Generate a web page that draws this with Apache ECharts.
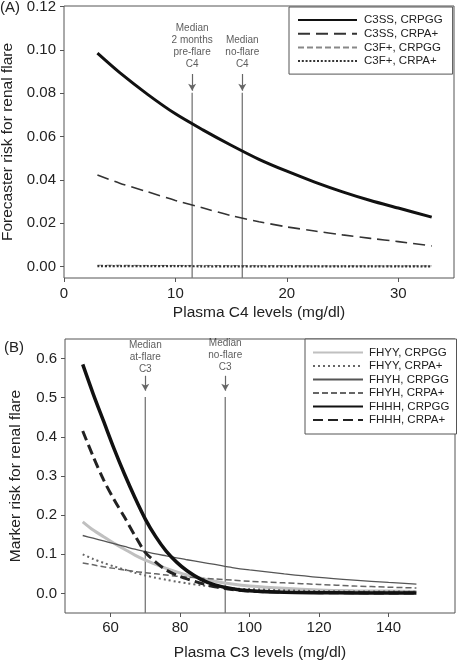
<!DOCTYPE html>
<html><head><meta charset="utf-8">
<script src="https://cdn.jsdelivr.net/npm/echarts@6/dist/echarts.min.js"></script>
<style>html,body{margin:0;padding:0;background:#fff}#c{width:457px;height:661px}</style>
</head><body><div id="c"></div>
<script>
// ---------- Panel A data ----------
const c4Levels = [3, 5, 7.5, 10, 12.5, 15, 17.5, 20, 22.5, 25, 27.5, 30, 33];
const c3ssCrpgg = [0.0985, 0.0895, 0.0795, 0.0705, 0.063, 0.056, 0.0495, 0.044, 0.039, 0.0345, 0.0305, 0.027, 0.0228];
const c3ssCrpa = [0.0423, 0.0385, 0.0345, 0.0305, 0.027, 0.0235, 0.0207, 0.0183, 0.0164, 0.0146, 0.013, 0.0115, 0.0095];
const c3fCrpgg = [0.0006, 0.0006, 0.0005, 0.0005, 0.0005, 0.0004, 0.0004, 0.0004, 0.0003, 0.0003, 0.0003, 0.0003, 0.0003];
const c3fCrpa = [0.0002, 0.0002, 0.0002, 0.0002, 0.0001, 0.0001, 0.0001, 0.0001, 0.0001, 0.0001, 0.0001, 0.0001, 0.0001];
const namesA = ['C3SS, CRPGG', 'C3SS, CRPA+', 'C3F+, CRPGG', 'C3F+, CRPA+'];
const mediansA = [11.5, 16];
const medianTextsA = ['Median\n2 months\npre-flare\nC4', 'Median\nno-flare\nC4'];
const yTicksA = [0, 0.02, 0.04, 0.06, 0.08, 0.10, 0.12];
const xTicksA = [0, 10, 20, 30];

// ---------- Panel B data ----------
const c3Levels = [52, 55, 58, 61, 64, 67, 70, 73, 76, 79, 82, 86, 90, 95, 100, 110, 120, 130, 140, 148];
const fhyyCrpgg = [0.183, 0.162, 0.145, 0.128, 0.113, 0.098, 0.085, 0.074, 0.064, 0.055, 0.047, 0.039, 0.031, 0.024, 0.019, 0.013, 0.009, 0.007, 0.006, 0.005];
const fhyyCrpa = [0.10, 0.088, 0.078, 0.069, 0.061, 0.053, 0.046, 0.040, 0.035, 0.030, 0.026, 0.021, 0.017, 0.013, 0.011, 0.008, 0.006, 0.005, 0.005, 0.004];
const fhyhCrpgg = [0.148, 0.141, 0.134, 0.127, 0.120, 0.113, 0.107, 0.101, 0.096, 0.091, 0.086, 0.080, 0.074, 0.066, 0.060, 0.050, 0.041, 0.034, 0.028, 0.024];
const fhyhCrpa = [0.078, 0.073, 0.068, 0.064, 0.060, 0.056, 0.053, 0.050, 0.047, 0.044, 0.042, 0.039, 0.037, 0.034, 0.031, 0.027, 0.023, 0.019, 0.016, 0.014];
const fhhhCrpgg = [0.585, 0.51, 0.44, 0.37, 0.305, 0.245, 0.19, 0.145, 0.108, 0.08, 0.058, 0.036, 0.022, 0.012, 0.007, 0.003, 0.0018, 0.0012, 0.001, 0.001];
const fhhhCrpa = [0.415, 0.35, 0.29, 0.24, 0.195, 0.148, 0.105, 0.08, 0.06, 0.047, 0.037, 0.026, 0.017, 0.010, 0.006, 0.003, 0.002, 0.0015, 0.0012, 0.001];
const namesB = ['FHYY, CRPGG', 'FHYY, CRPA+', 'FHYH, CRPGG', 'FHYH, CRPA+', 'FHHH, CRPGG', 'FHHH, CRPA+'];
const mediansB = [70, 93];
const medianTextsB = ['Median\nat-flare\nC3', 'Median\nno-flare\nC3'];
const yTicksB = [0, 0.1, 0.2, 0.3, 0.4, 0.5, 0.6];
const xTicksB = [60, 80, 100, 120, 140];

// axis ranges
const yA = {min: -0.0053, max: 0.1203};
const yB = {min: -0.05, max: 0.65};
// vertical-line extents (data units)
const lineTopA = 0.0802, arrowA = [0.0889, 0.0812], labelYA = 0.0905;
const lineTopB = 0.502, arrowB = [0.556, 0.518], labelYB = [0.558, 0.563];

const FONT = '"Liberation Sans", Arial, sans-serif';
const TXT = '#222';
const FRAME = '#555';

function pairs(xs, ys) { return xs.map((x, i) => [x, ys[i]]); }

function curve(name, xi, yi, xs, ys, ls, z) {
  return {name, type: 'line', xAxisIndex: xi, yAxisIndex: yi, data: pairs(xs, ys),
    showSymbol: false, symbol: 'none', smooth: 0.3, lineStyle: ls, itemStyle: {color: ls.color},
    silent: true, z: z || 2, animation: false};
}

function medianSeries(xi, yi, x, yMin, yTop, arrow, labY, text) {
  return [{
    type: 'line', xAxisIndex: xi, yAxisIndex: yi, data: [[x, yMin], [x, yTop]],
    showSymbol: false, symbol: 'none', silent: true, animation: false, z: 1,
    lineStyle: {color: '#777', width: 1.3},
    markLine: {silent: true, animation: false, symbol: ['none', 'arrow'], symbolSize: [6, 7],
      label: {show: false}, lineStyle: {color: '#666', width: 1.2, type: 'solid'},
      data: [[{coord: [x, arrow[0]]}, {coord: [x, arrow[1]]}]]}
  }, {
    type: 'scatter', xAxisIndex: xi, yAxisIndex: yi, data: [[x, labY]], symbolSize: 0,
    silent: true, animation: false,
    label: {show: true, position: 'top', distance: 0, formatter: text, fontFamily: FONT,
      fontSize: 10, lineHeight: 12, color: '#333', align: 'center'}
  }];
}

const axisCommon = {
  axisLine: {show: false, onZero: false},
  splitLine: {show: false},
  nameLocation: 'middle',
  nameTextStyle: {fontFamily: FONT, fontSize: 15.5, color: TXT},
};

const option = {
  animation: false,
  backgroundColor: '#fff',
  textStyle: {fontFamily: FONT},
  grid: [
    {left: 64, top: 6, width: 390, height: 272, show: true, borderColor: FRAME, borderWidth: 1, backgroundColor: 'transparent', outerBoundsMode: 'none', containLabel: false},
    {left: 65, top: 339, width: 390, height: 274, show: true, borderColor: FRAME, borderWidth: 1, backgroundColor: 'transparent', outerBoundsMode: 'none', containLabel: false}
  ],
  xAxis: [
    Object.assign({}, axisCommon, {type: 'value', gridIndex: 0, min: 0, max: 35,
      name: 'Plasma C4 levels (mg/dl)', nameGap: 27,
      axisTick: {show: true, inside: false, length: 4, lineStyle: {color: FRAME}, customValues: xTicksA},
      axisLabel: {customValues: xTicksA, fontSize: 15, color: TXT, margin: 8, fontFamily: FONT}}),
    Object.assign({}, axisCommon, {type: 'value', gridIndex: 1, min: 46.9, max: 159.1,
      name: 'Plasma C3 levels (mg/dl)', nameGap: 32,
      axisTick: {show: true, inside: false, length: 4, lineStyle: {color: FRAME}, customValues: xTicksB},
      axisLabel: {customValues: xTicksB, fontSize: 15, color: TXT, margin: 7, fontFamily: FONT}})
  ],
  yAxis: [
    Object.assign({}, axisCommon, {type: 'value', gridIndex: 0, min: yA.min, max: yA.max,
      name: 'Forecaster risk for renal flare', nameGap: 48, nameRotate: 90,
      axisTick: {show: true, inside: false, length: 4, lineStyle: {color: FRAME}, customValues: yTicksA},
      axisLabel: {customValues: yTicksA, fontSize: 15, color: TXT, margin: 8, fontFamily: FONT,
        formatter: v => v.toFixed(2)}}),
    Object.assign({}, axisCommon, {type: 'value', gridIndex: 1, min: yB.min, max: yB.max,
      name: 'Marker risk for renal flare', nameGap: 41, nameRotate: 90,
      axisTick: {show: true, inside: false, length: 4, lineStyle: {color: FRAME}, customValues: yTicksB},
      axisLabel: {customValues: yTicksB, fontSize: 15, color: TXT, margin: 8, fontFamily: FONT,
        formatter: v => v.toFixed(1)}})
  ],
  legend: [
    {data: namesA, orient: 'vertical', left: 289, top: 7, itemWidth: 59, itemHeight: 12, itemGap: 1.7,
      padding: [7, 10, 7, 8], borderColor: FRAME, borderWidth: 1, backgroundColor: '#fff',
      itemStyle: {opacity: 0},
      selectedMode: false, textStyle: {fontFamily: FONT, fontSize: 11.5, color: TXT, padding: [0, 0, 0, 2]}},
    {data: namesB, orient: 'vertical', left: 305, top: 339, itemWidth: 50, itemHeight: 12, itemGap: 1.5,
      padding: [7.5, 7, 8, 7], borderColor: FRAME, borderWidth: 1, backgroundColor: '#fff',
      itemStyle: {opacity: 0},
      selectedMode: false, textStyle: {fontFamily: FONT, fontSize: 11.5, color: TXT, padding: [0, 0, 0, 1]}}
  ],
  graphic: [
    {type: 'text', left: 0, top: 0, style: {text: '(A)', font: '15px ' + FONT, fill: TXT}},
    {type: 'text', left: 4, top: 340, style: {text: '(B)', font: '15px ' + FONT, fill: TXT}}
  ],
  series: [].concat(
    medianSeries(0, 0, mediansA[0], yA.min, lineTopA, arrowA, labelYA, medianTextsA[0]),
    medianSeries(0, 0, mediansA[1], yA.min, lineTopA, arrowA, labelYA, medianTextsA[1]),
    medianSeries(1, 1, mediansB[0], yB.min, lineTopB, arrowB, labelYB[0], medianTextsB[0]),
    medianSeries(1, 1, mediansB[1], yB.min, lineTopB, arrowB, labelYB[1], medianTextsB[1]),
    [
      curve(namesA[0], 0, 0, c4Levels, c3ssCrpgg, {color: '#111', width: 3, type: 'solid'}, 5),
      curve(namesA[1], 0, 0, c4Levels, c3ssCrpa, {color: '#333', width: 1.6, type: [12, 6]}, 4),
      curve(namesA[2], 0, 0, c4Levels, c3fCrpgg, {color: '#888', width: 1, type: [6, 3]}, 3),
      curve(namesA[3], 0, 0, c4Levels, c3fCrpa, {color: '#333', width: 2.2, type: [2, 1.8]}, 4),
      curve(namesB[0], 1, 1, c3Levels, fhyyCrpgg, {color: '#c0c0c0', width: 3, type: 'solid'}, 2),
      curve(namesB[1], 1, 1, c3Levels, fhyyCrpa, {color: '#666', width: 2, type: [2, 3]}, 3),
      curve(namesB[2], 1, 1, c3Levels, fhyhCrpgg, {color: '#555', width: 1.3, type: 'solid'}, 3),
      curve(namesB[3], 1, 1, c3Levels, fhyhCrpa, {color: '#666', width: 1.5, type: [6, 3]}, 3),
      curve(namesB[4], 1, 1, c3Levels, fhhhCrpgg, {color: '#111', width: 3.5, type: 'solid'}, 5),
      curve(namesB[5], 1, 1, c3Levels, fhhhCrpa, {color: '#222', width: 3, type: [10, 5]}, 4)
    ]
  )
};

const chart = echarts.init(document.getElementById('c'), null, {renderer: 'canvas'});
chart.setOption(option);
</script>
</body></html>
